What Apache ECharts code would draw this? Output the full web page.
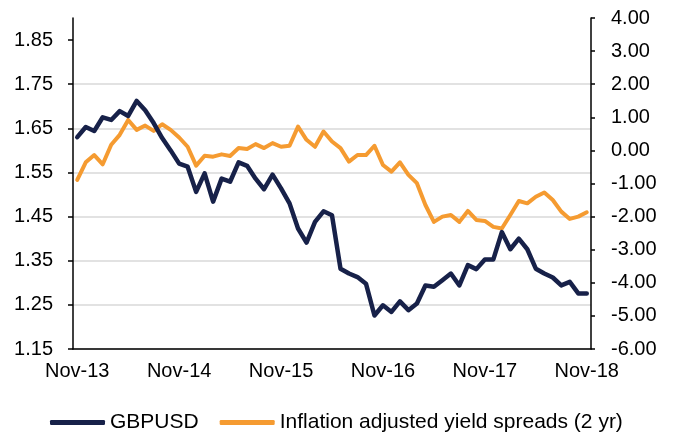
<!DOCTYPE html>
<html>
<head>
<meta charset="utf-8">
<script src="https://cdn.jsdelivr.net/npm/echarts@6/dist/echarts.min.js"></script>
<style>
  html, body { margin: 0; padding: 0; background: #fff; }
  #chart { width: 674px; height: 436px; }
</style>
</head>
<body>
<div id="chart"></div>
<script>
// monthly points, Nov-13 .. Nov-18
const months = [
  'Nov-13', 'Dec-13', 'Jan-14', 'Feb-14', 'Mar-14', 'Apr-14', 'May-14', 'Jun-14', 'Jul-14', 'Aug-14', 'Sep-14', 'Oct-14',
  'Nov-14', 'Dec-14', 'Jan-15', 'Feb-15', 'Mar-15', 'Apr-15', 'May-15', 'Jun-15', 'Jul-15', 'Aug-15', 'Sep-15', 'Oct-15',
  'Nov-15', 'Dec-15', 'Jan-16', 'Feb-16', 'Mar-16', 'Apr-16', 'May-16', 'Jun-16', 'Jul-16', 'Aug-16', 'Sep-16', 'Oct-16',
  'Nov-16', 'Dec-16', 'Jan-17', 'Feb-17', 'Mar-17', 'Apr-17', 'May-17', 'Jun-17', 'Jul-17', 'Aug-17', 'Sep-17', 'Oct-17',
  'Nov-17', 'Dec-17', 'Jan-18', 'Feb-18', 'Mar-18', 'Apr-18', 'May-18', 'Jun-18', 'Jul-18', 'Aug-18', 'Sep-18', 'Oct-18',
  'Nov-18'
]

const gbpusd = [
  1.630, 1.653, 1.644, 1.675, 1.669, 1.689, 1.678, 1.712, 1.691, 1.662, 1.628, 1.600,
  1.570, 1.563, 1.506, 1.548, 1.484, 1.536, 1.529, 1.573, 1.565, 1.536, 1.512, 1.545,
  1.514, 1.480, 1.423, 1.391, 1.438, 1.462, 1.453, 1.332, 1.321, 1.313, 1.298, 1.226,
  1.249, 1.234, 1.258, 1.238, 1.253, 1.294, 1.291, 1.306, 1.321, 1.294, 1.340, 1.331,
  1.353, 1.353, 1.415, 1.376, 1.400, 1.376, 1.332, 1.321, 1.312, 1.294, 1.302, 1.276,
  1.276
]

// inflation adjusted 2yr yield spreads (right axis)
const spreads = [
  -0.89, -0.36, -0.14, -0.42, 0.17, 0.47, 0.92, 0.62, 0.75, 0.59, 0.79, 0.62,
  0.39, 0.11, -0.46, -0.16, -0.19, -0.12, -0.17, 0.07, 0.04, 0.19, 0.07, 0.22,
  0.11, 0.14, 0.72, 0.32, 0.11, 0.57, 0.27, 0.07, -0.34, -0.14, -0.14, 0.14,
  -0.44, -0.64, -0.36, -0.74, -0.99, -1.65, -2.16, -2.00, -1.95, -2.16, -1.83, -2.10,
  -2.13, -2.31, -2.36, -1.95, -1.53, -1.60, -1.40, -1.27, -1.50, -1.85, -2.07, -2.00,
  -1.87
]

const leftTicks = [1.15, 1.25, 1.35, 1.45, 1.55, 1.65, 1.75, 1.85]

const chart = echarts.init(document.getElementById('chart'))

const axisFont = {
  color: '#000',
  fontSize: 20,
  fontFamily: '"Liberation Sans", Arial, sans-serif'
}

chart.setOption({
  backgroundColor: '#fff',
  animation: false,
  grid: {
    left: 73,
    right: 83,
    top: 18,
    bottom: 87,
    containLabel: false,
    outerBoundsMode: 'none'
  },
  legend: {
    left: 45,
    top: 407,
    itemWidth: 55,
    itemHeight: 5,
    itemGap: 21,
    icon: 'roundRect',
    textStyle: {
      color: '#000',
      fontSize: 21,
      fontFamily: '"Liberation Sans", Arial, sans-serif'
    },
    data: ['GBPUSD', 'Inflation adjusted yield spreads (2 yr)']
  },
  xAxis: {
    type: 'category',
    boundaryGap: true,
    data: months,
    axisLine: { onZero: false, lineStyle: { color: '#000', width: 1.5 } },
    axisTick: { interval: 11, length: 5, lineStyle: { color: '#000', width: 1.5 } },
    axisLabel: Object.assign({ interval: 11, margin: 12 }, axisFont),
    splitLine: { show: false }
  },
  yAxis: [{
    type: 'value',
    position: 'left',
    min: 1.15,
    max: 1.9,
    interval: 0.1,
    axisLine: { show: true, lineStyle: { color: '#000', width: 1.5 } },
    axisTick: { show: true, length: 5, customValues: leftTicks, lineStyle: { color: '#000', width: 1.5 } },
    axisLabel: Object.assign({
      margin: 20,
      customValues: leftTicks,
      formatter: v => v.toFixed(2)
    }, axisFont),
    splitLine: {
      show: true,
      showMaxLine: false,
      lineStyle: { color: '#d9d9d9', width: 1.5 }
    }
  }, {
    type: 'value',
    position: 'right',
    min: -6,
    max: 4,
    interval: 1,
    axisLine: { show: true, lineStyle: { color: '#000', width: 1.5 } },
    axisTick: { show: true, length: 4, lineStyle: { color: '#000', width: 1.5 } },
    axisLabel: Object.assign({
      margin: 20,
      formatter: v => v.toFixed(2)
    }, axisFont),
    splitLine: { show: false }
  }],
  series: [{
    name: 'GBPUSD',
    type: 'line',
    yAxisIndex: 0,
    data: gbpusd,
    symbol: 'none',
    z: 3,
    color: '#172149',
    lineStyle: { width: 4.5, color: '#172149', cap: 'round', join: 'round' }
  }, {
    name: 'Inflation adjusted yield spreads (2 yr)',
    type: 'line',
    yAxisIndex: 1,
    data: spreads,
    symbol: 'none',
    z: 2,
    color: '#f59b31',
    lineStyle: { width: 4, color: '#f59b31', cap: 'round', join: 'round' }
  }]
})
</script>
</body>
</html>
